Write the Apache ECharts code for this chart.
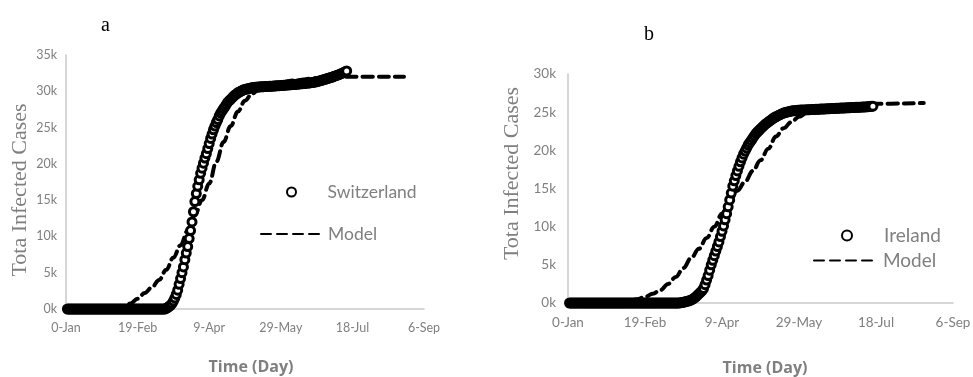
<!DOCTYPE html>
<html>
<head>
<meta charset="utf-8">
<script src="https://cdn.jsdelivr.net/npm/echarts@6/dist/echarts.min.js"></script>
<style>
html,body{margin:0;padding:0;background:#fff;}
#chart{width:973px;height:377px;}
</style>
</head>
<body>
<div id="chart"></div>
<script>
// ---- data (values in thousands of cases, x in day of year) ----
const xTickLabels = ['0-Jan', '19-Feb', '9-Apr', '29-May', '18-Jul', '6-Sep'];
const yTickLabelsA = ['0k', '5k', '10k', '15k', '20k', '25k', '30k', '35k'];
const yTickLabelsB = ['0k', '5k', '10k', '15k', '20k', '25k', '30k'];

const swissFirstDay = 1;
const swissCases = [
  0,0,0,0,0,0,0,0,0,0, 0,0,0,0,0,0,0,0,0,0, 0,0,0,0,0,0,0,0,0,0,
  0,0,0,0,0,0,0,0,0,0, 0,0,0,0,0,0,0,0,0,0, 0,0,0,0,0,0,0,0,0,0,
  0,0,0,0,0,0,0,0,0,
  0.1,0.2,0.35,0.5,0.75,1.1,1.5,2.0,2.6,3.4,
  4.2,5.0,5.8,6.8,7.7,8.6,9.7,10.8,12.0,13.4,
  14.8,15.9,16.9,17.8,18.7,19.4,20.1,20.8,21.4,22.1,
  22.8,23.5,24.1,24.7,25.2,25.7,26.1,26.6,27.0,27.3,
  27.6,27.9,28.2,28.5,28.7,28.9,29.1,29.3,29.5,29.6,
  29.8,29.9,30.0,30.1,30.2,30.25,30.3,30.35,30.4,30.45,
  30.5,30.52,30.54,30.56,30.58,30.6,30.61,30.62,30.64,30.65,
  30.66,30.67,30.68,30.7,30.71,30.72,30.74,30.75,30.77,30.78,
  30.8,30.81,30.83,30.84,30.86,30.87,30.89,30.9,30.92,30.93,
  30.95,30.97,30.99,31.01,31.03,31.05,31.07,31.09,31.11,31.13,
  31.15,31.18,31.21,31.25,31.28,31.32,31.37,31.42,31.48,31.54,
  31.6,31.66,31.72,31.78,31.84,31.9,31.97,32.04,32.11,32.18,
  32.25,32.33,32.42,32.5,32.6,32.7,32.8
];

const irelandFirstDay = 1;
const irelandCases = [
  0,0,0,0,0,0,0,0,0,0, 0,0,0,0,0,0,0,0,0,0, 0,0,0,0,0,0,0,0,0,0,
  0,0,0,0,0,0,0,0,0,0, 0,0,0,0,0,0,0,0,0,0, 0,0,0,0,0,0,0,0,0,0,
  0,0,0,0,0,0,0,0,0,0, 0,0,
  0.02,0.05,0.1,0.15,0.2,0.25,0.3,
  0.4,0.5,0.65,0.8,1.0,1.2,1.4,1.6,1.9,2.4,
  3.0,3.6,4.3,5.0,5.6,6.2,6.8,7.4,8.0,8.7,
  9.4,10.1,10.9,11.7,12.6,13.5,14.4,15.3,16.0,16.7,
  17.3,17.9,18.5,19.0,19.5,19.9,20.3,20.7,21.0,21.3,
  21.6,21.9,22.2,22.4,22.6,22.8,23.0,23.2,23.4,23.55,
  23.7,23.85,24.0,24.15,24.3,24.4,24.5,24.6,24.7,24.8,
  24.88,24.95,25.0,25.05,25.1,25.14,25.17,25.2,25.22,25.24,
  25.26,25.27,25.28,25.29,25.3,25.31,25.32,25.33,25.34,25.35,
  25.36,25.37,25.38,25.39,25.4,25.41,25.42,25.43,25.44,25.45,
  25.46,25.47,25.48,25.49,25.5,25.51,25.52,25.53,25.54,25.55,
  25.56,25.57,25.58,25.59,25.6,25.61,25.62,25.63,25.64,25.65,
  25.66,25.67,25.68,25.69,25.7,25.72,25.74,25.76,25.78
];

const modelDaysA  = [0, 10, 20, 30, 40, 45, 50, 55, 60, 65, 70, 75, 80, 85, 90, 95, 100, 105, 110, 115, 120, 125, 130, 135, 140, 150, 160, 175, 200, 236];
const modelCasesA = [0, 0.02, 0.05, 0.12, 0.35, 0.75, 1.4, 2.2, 3.0, 4.0, 5.4, 7.1, 8.8, 10.8, 12.9, 15.0, 17.3, 20.3, 23.0, 25.2, 27.2, 28.7, 29.7, 30.3, 30.7, 31.2, 31.5, 31.8, 32.0, 32.0];

const modelDaysB  = [0, 10, 20, 30, 40, 45, 50, 55, 60, 65, 70, 75, 80, 85, 90, 95, 100, 105, 110, 115, 120, 125, 130, 135, 140, 145, 150, 155, 160, 170, 180, 200, 231];
const modelCasesB = [0, 0.02, 0.05, 0.12, 0.3, 0.5, 0.8, 1.2, 1.7, 2.5, 3.4, 4.6, 5.9, 7.1, 8.5, 10.0, 11.7, 13.3, 14.7, 15.9, 17.3, 18.7, 20.2, 21.8, 22.9, 23.7, 24.4, 24.9, 25.3, 25.7, 25.95, 26.1, 26.2];

// ---- build ----
const toPairs = (first, arr) => arr.map((v, i) => [first + i, v]);
const zipPairs = (xs, ys) => xs.map((x, i) => [x, ys[i]]);

const GRAY = '#7f7f7f';
const AXIS_LINE = '#c9c9c9';

function xAxis(gridIndex, fontSize, margin, nameGap, namePad) {
  return {
    type: 'value', gridIndex, min: 0, max: 250, interval: 50,
    axisLine: { show: true, lineStyle: { color: AXIS_LINE, width: 1.5 } },
    axisTick: { show: false }, splitLine: { show: false },
    axisLabel: { color: GRAY, fontFamily: 'Lato', fontSize, margin,
      formatter: (v, i) => xTickLabels[i] },
    name: 'Time (Day)', nameLocation: 'middle', nameGap,
    nameTextStyle: { color: GRAY, fontFamily: 'Open Sans', fontWeight: 'bold', fontSize: 16, padding: namePad }
  };
}
function yAxis(gridIndex, max, labels, fontSize, margin, nameGap, namePad) {
  return {
    type: 'value', gridIndex, min: 0, max, interval: 5,
    axisLine: { show: true, lineStyle: { color: AXIS_LINE, width: 1.5 } },
    axisTick: { show: false }, splitLine: { show: false },
    axisLabel: { color: GRAY, fontFamily: 'Lato', fontSize, margin,
      formatter: (v, i) => labels[i] },
    name: 'Tota Infected Cases', nameLocation: 'middle', nameGap,
    nameTextStyle: { color: GRAY, fontFamily: 'Liberation Serif', fontSize: 22, padding: namePad }
  };
}

const scatterStyle = { color: '#ffffff', borderColor: '#000000', borderWidth: 3, opacity: 1 };
const modelLine = { color: '#000000', width: 4, type: [10, 6], cap: 'round' };
const legendText = (size) => ({ color: GRAY, fontFamily: 'Lato', fontSize: size });

const option = {
  animation: false,
  backgroundColor: '#ffffff',
  title: [
    { text: 'a', left: 96, top: 11, textStyle: { fontFamily: 'Liberation Serif', fontSize: 20, fontWeight: 'normal', color: '#000' } },
    { text: 'b', left: 639, top: 20, textStyle: { fontFamily: 'Liberation Serif', fontSize: 20, fontWeight: 'normal', color: '#000' } }
  ],
  grid: [
    { left: 66, top: 55, width: 358, height: 254, outerBoundsMode: 'none', containLabel: false },
    { left: 568, top: 74, width: 385, height: 229, outerBoundsMode: 'none', containLabel: false }
  ],
  xAxis: [ xAxis(0, 12.5, 12, 50, [0, 0, 0, 12]), xAxis(1, 13.5, 13, 57, [0, 0, 0, 9]) ],
  yAxis: [ yAxis(0, 35, yTickLabelsA, 12.5, 9, 35, [0, 0, 0, -16]), yAxis(1, 30, yTickLabelsB, 13.5, 12, 45, [0, 0, 0, 30]) ],
  legend: [
    { data: [{ name: 'Switzerland', icon: 'circle' }], left: 286, top: 183, padding: 0, itemWidth: 62, itemHeight: 9,
      itemStyle: { color: '#fff', borderColor: '#000', borderWidth: 2, opacity: 1 },
      textStyle: legendText(17.5) },
    { data: ['Model'], left: 260, top: 225, padding: 0, itemWidth: 62, itemHeight: 10,
      itemStyle: { opacity: 0 },
      textStyle: legendText(17.5) },
    { data: [{ name: 'Ireland', icon: 'circle' }], left: 841, top: 226, padding: 0, itemWidth: 64, itemHeight: 10,
      itemStyle: { color: '#fff', borderColor: '#000', borderWidth: 2, opacity: 1 },
      textStyle: legendText(19) },
    { data: ['Model '], left: 813, top: 251, padding: 0, itemWidth: 64, itemHeight: 10,
      itemStyle: { opacity: 0 },
      textStyle: legendText(19),
      formatter: (n) => n.trim() }
  ],
  series: [
    { name: 'Model', type: 'line', xAxisIndex: 0, yAxisIndex: 0, z: 2,
      data: zipPairs(modelDaysA, modelCasesA), symbol: 'none', smooth: 0.4, smoothMonotone: 'x',
      lineStyle: modelLine, itemStyle: { color: '#000' } },
    { name: 'Switzerland', type: 'scatter', xAxisIndex: 0, yAxisIndex: 0, z: 3,
      data: toPairs(swissFirstDay, swissCases), symbol: 'circle', symbolSize: 8, itemStyle: scatterStyle },
    { name: 'Model ', type: 'line', xAxisIndex: 1, yAxisIndex: 1, z: 2,
      data: zipPairs(modelDaysB, modelCasesB), symbol: 'none', smooth: 0.4, smoothMonotone: 'x',
      lineStyle: modelLine, itemStyle: { color: '#000' } },
    { name: 'Ireland', type: 'scatter', xAxisIndex: 1, yAxisIndex: 1, z: 3,
      data: toPairs(irelandFirstDay, irelandCases), symbol: 'circle', symbolSize: 8, itemStyle: scatterStyle }
  ]
};

const chart = echarts.init(document.getElementById('chart'), null, { renderer: 'canvas' });
chart.setOption(option);
</script>
</body>
</html>
